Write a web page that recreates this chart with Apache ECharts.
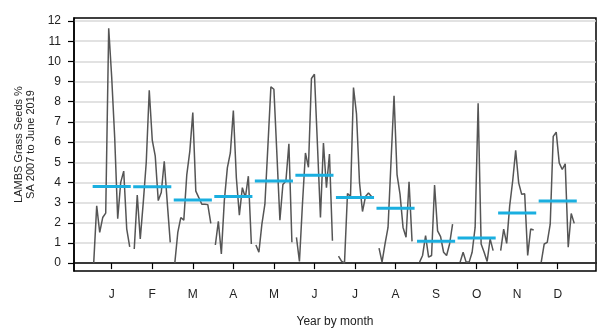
<!DOCTYPE html>
<html>
<head>
<meta charset="utf-8">
<script src="https://cdn.jsdelivr.net/npm/echarts@6/dist/echarts.min.js"></script>
<style>html,body{margin:0;padding:0;background:#fff}#c{width:607px;height:333px}</style>
</head>
<body>
<div id="c"></div>
<script>
const monthLabels = ['J','F','M','A','M','J','J','A','S','O','N','D'];
const yTicks = [0,1,2,3,4,5,6,7,8,9,10,11,12];
// yearly values per month (2007 ...)
const jan = [0, 2.84, 1.52, 2.26, 2.48, 11.64, 9.2, 6.2, 2.2, 4.0, 4.56, 1.7, 0.8];
const feb = [0.7, 3.38, 1.2, 3.0, 5.0, 8.57, 6.1, 5.3, 3.1, 3.5, 5.05, 3.0, 1.03];
const mar = [0, 1.52, 2.26, 2.13, 4.39, 5.54, 7.46, 3.57, 3.25, 2.92, 2.92, 2.9, 1.97];
const apr = [0.9, 2.07, 0.46, 3.11, 4.72, 5.46, 7.56, 4.23, 2.38, 3.74, 3.25, 4.31, 0.95];
const may = [0.9, 0.54, 1.93, 2.92, 5.8, 8.74, 8.62, 5.4, 2.13, 3.9, 4.07, 5.92, 1.03];
const jun = [1.28, 0.08, 2.92, 5.46, 4.75, 9.15, 9.36, 5.87, 2.26, 5.95, 3.74, 5.41, 1.11];
const jul = [0.35, 0.1, 0, 3.45, 3.3, 8.7, 7.4, 4.0, 2.56, 3.3, 3.48, 3.3];
const aug = [0.74, 0.05, 0.95, 1.77, 5.05, 8.3, 4.39, 3.41, 1.77, 1.28, 4.03, 1.08];
const sep = [0.05, 0.38, 1.36, 0.3, 0.38, 3.87, 1.6, 1.31, 0.54, 0.38, 0.95, 1.93];
const oct = [0.05, 0.54, 0.05, 0.05, 0.54, 1.77, 7.92, 0.95, 0.54, 0.08, 1.2, 0.62];
const nov = [0.62, 1.69, 0.98, 2.84, 4.07, 5.59, 3.98, 3.41, 3.44, 0.38, 1.69, 1.64];
const dec = [0.05, 0.95, 1.03, 1.93, 6.28, 6.49, 4.97, 4.64, 4.92, 0.79, 2.46, 1.97];
const monthMeans = [3.80, 3.78, 3.13, 3.30, 4.07, 4.36, 3.25, 2.72, 1.08, 1.25, 2.48, 3.08];

const allMonths = [jan, feb, mar, apr, may, jun, jul, aug, sep, oct, nov, dec];
const STEP = 0.074;   // spacing of years within a month (axis units)
const HALF = 0.47;    // half width of mean bar

const series = [];
allMonths.forEach((vals, m) => {
  const n = vals.length;
  series.push({
    type: 'line',
    data: vals.map((v, j) => [m + 1 + (j - (n - 1) / 2) * STEP, v]),
    symbol: 'none',
    lineStyle: { color: '#555555', width: 1.5 },
    z: 3,
    silent: true
  });
  series.push({
    type: 'line',
    data: [[m + 1 - HALF, monthMeans[m]], [m + 1 + HALF, monthMeans[m]]],
    symbol: 'none',
    lineStyle: { color: '#1aafe0', width: 3 },
    z: 4,
    silent: true
  });
});

const chart = echarts.init(document.getElementById('c'), null, { renderer: 'canvas' });
const font = 'Liberation Sans';
chart.setOption({
  animation: false,
  backgroundColor: '#fff',
  grid: {
    left: 74, right: 11, top: 18, bottom: 60,
    show: true, borderColor: '#000', borderWidth: 1.5, backgroundColor: 'transparent'
  },
  xAxis: {
    type: 'value',
    min: 0.07, max: 12.944,
    name: 'Year by month',
    nameLocation: 'middle',
    nameGap: 45,
    nameTextStyle: { fontFamily: font, fontSize: 12, color: '#222' },
    axisLine: { show: true, lineStyle: { color: '#000', width: 1.5 } },
    axisTick: { show: true, customValues: [1,2,3,4,5,6,7,8,9,10,11,12], length: 6, lineStyle: { color: '#000', width: 1.2 } },
    axisLabel: {
      customValues: [1,2,3,4,5,6,7,8,9,10,11,12],
      formatter: v => monthLabels[Math.round(v) - 1] || '',
      fontFamily: font, fontSize: 12, color: '#222', margin: 18
    },
    splitLine: { show: false }
  },
  yAxis: {
    type: 'value',
    min: -0.39, max: 12.15,
    name: 'LAMBS Grass Seeds %\nSA 2007 to June 2019',
    nameLocation: 'middle',
    nameGap: 31,
    nameTextStyle: { fontFamily: font, fontSize: 11, color: '#222', lineHeight: 12 },
    axisLine: { show: true, lineStyle: { color: '#000', width: 1.5 } },
    axisTick: { show: true, customValues: yTicks, length: 6, lineStyle: { color: '#000', width: 1.2 } },
    axisLabel: {
      customValues: yTicks,
      fontFamily: font, fontSize: 12, color: '#222', margin: 13
    },
    splitLine: { show: true, lineStyle: { color: '#d9d9d9', width: 1.5 } }
  },
  series: series
});
</script>
</body>
</html>
